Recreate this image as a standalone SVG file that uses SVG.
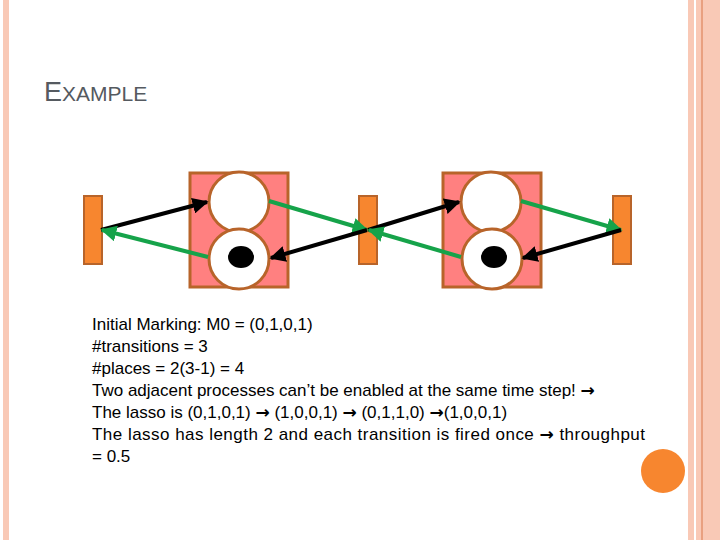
<svg xmlns="http://www.w3.org/2000/svg" width="720" height="540" viewBox="0 0 720 540">
<style>
.t{fill:#F7862F;stroke:#B8642A;stroke-width:2}
.b{fill:#FF8080;stroke:#B8642A;stroke-width:3}
.p{fill:#fff;stroke:#B8642A;stroke-width:3}
.k{stroke:#000;stroke-width:4;marker-end:url(#mk)}
.g{stroke:#16A34A;stroke-width:4;marker-end:url(#mg)}
text{font-family:"Liberation Sans",Arial,sans-serif}
</style>
<defs>
<marker id="mk" viewBox="0 0 10 10" refX="9" refY="5" markerWidth="4" markerHeight="4" orient="auto"><path d="M0,0L10,5L0,10z" fill="#000"/></marker>
<marker id="mg" viewBox="0 0 10 10" refX="9" refY="5" markerWidth="4" markerHeight="4" orient="auto"><path d="M0,0L10,5L0,10z" fill="#16A34A"/></marker>
</defs>
<rect width="720" height="540" fill="#fff"/>
<rect x="3" y="0" width="6" height="540" fill="#F9C9B6"/>
<rect x="688" y="0" width="32" height="540" fill="#F9C9B6"/>
<rect x="694" y="0" width="2" height="540" fill="#fff"/>
<rect x="701" y="0" width="2" height="540" fill="#E9A080"/>
<text x="44" y="101" font-size="27" fill="#555a60">E<tspan font-size="21">XAMPLE</tspan></text>
<g id="p1"><rect class="b" x="190" y="173" width="98" height="114"/><circle class="p" cx="239" cy="202" r="30"/><circle class="p" cx="239" cy="259" r="30"/><ellipse cx="241" cy="257" rx="13" ry="11"/></g>
<g id="p2"><rect class="b" x="443" y="173" width="98" height="114"/><circle class="p" cx="491" cy="202" r="30"/><circle class="p" cx="492" cy="259" r="30"/><ellipse cx="494" cy="257" rx="13" ry="11"/></g>
<g id="t1"><rect class="t" x="84" y="196" width="18" height="68"/></g>
<g id="t2"><rect class="t" x="359" y="196" width="18" height="68"/></g>
<g id="t3"><rect class="t" x="613" y="196" width="18" height="68"/></g>
<g id="connectors" fill="none">
<line class="k" x1="101" y1="230" x2="207" y2="202"/>
<line class="g" x1="269" y1="201" x2="367" y2="230"/>
<line class="k" x1="367" y1="230" x2="271" y2="258"/>
<line class="g" x1="208" y1="257" x2="102" y2="230"/>
<line class="k" x1="368" y1="230" x2="459" y2="202"/>
<line class="g" x1="521" y1="201" x2="621" y2="230"/>
<line class="g" x1="461" y1="257" x2="369" y2="230"/>
<line class="k" x1="621" y1="230" x2="523" y2="258"/>
</g>
<g font-size="17" fill="#000">
<text x="92" y="330">Initial Marking: M0 = (0,1,0,1)</text>
<text x="92" y="352">#transitions = 3</text>
<text x="92" y="374">#places = 2(3-1) = 4</text>
<text x="92" y="396">Two adjacent processes can’t be enabled at the same time step! <tspan font-family="DejaVu Sans" font-weight="bold">→</tspan></text>
<text x="92" y="418">The lasso is (0,1,0,1) <tspan font-family="DejaVu Sans" font-weight="bold">→</tspan> (1,0,0,1) <tspan font-family="DejaVu Sans" font-weight="bold">→</tspan> (0,1,1,0) <tspan font-family="DejaVu Sans" font-weight="bold">→</tspan>(1,0,0,1)</text>
<text x="92" y="440" textLength="553">The lasso has length 2 and each transition is fired once <tspan font-family="DejaVu Sans" font-weight="bold">→</tspan> throughput</text>
<text x="92" y="462">= 0.5</text>
</g>
<circle cx="663" cy="471" r="22" fill="#F7862F"/>
</svg>
